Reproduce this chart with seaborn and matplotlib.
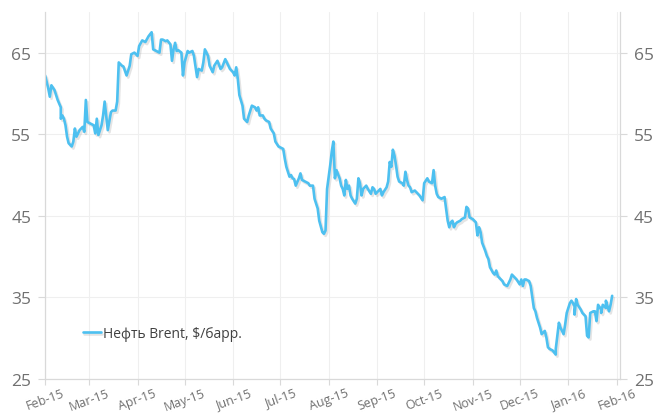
import numpy as np
import pandas as pd
import matplotlib
matplotlib.use("Agg")
import matplotlib.pyplot as plt
import matplotlib.dates as mdates
import matplotlib.patheffects as pe
import seaborn as sns

# days counted from 1 Feb 2015
start_date = "2015-02-01"
day = [0, 2, 3, 4, 6, 8, 10, 10, 11, 12, 13, 14, 15, 17, 18, 19, 20, 22, 24, 25,
       26, 27, 29, 31, 32, 33, 34, 36, 37, 38, 39, 40, 42, 43, 45, 46, 47, 49, 50, 52,
       54, 55, 57, 59, 60, 62, 63, 64, 66, 68, 69, 71, 73, 74,
       75, 77, 78, 80, 81, 82, 83, 84, 85, 87, 88, 89, 91, 92, 94, 95, 97, 98, 100, 101,
       102, 104, 105, 107, 108, 110, 112, 113, 115, 117, 118, 120, 121, 122, 123, 124, 126, 127, 129, 130,
       132, 134, 135, 136, 137, 139, 140, 141, 143, 144, 146, 147, 149,
       151, 152, 153, 154, 156, 157, 158, 159, 160, 162, 163, 164, 166, 168, 169, 171, 172, 174, 175, 177,
       178, 179, 180, 182, 183, 184, 185, 186, 188, 189, 190, 191, 192, 193, 194, 195, 196, 198, 199, 200,
       201, 202, 203, 205, 206, 208, 209, 210, 211, 213, 214, 215, 216, 218, 219, 220, 221, 222, 223,
       224, 225, 226, 228, 229, 230, 231, 232, 233, 234, 236, 238, 239, 241, 242, 244, 245, 247, 248, 249,
       250, 251, 253, 255, 256, 257, 258, 259, 260, 261, 262, 263, 265, 266, 268, 269, 270, 271, 273, 274,
       275, 276, 277, 278, 279, 281, 282, 283, 284, 286, 287, 288, 289, 290, 292, 293, 295, 297,
       298, 300, 301, 303, 304, 305, 306, 307, 309, 310, 312, 313, 314, 316, 317, 318, 319, 320, 321, 322,
       324, 326, 326, 328, 329, 331, 332, 333, 335, 336, 337, 338, 338, 339, 340, 342, 343, 345, 346, 347,
       348, 350, 351, 352, 353, 355, 355, 356, 358, 358, 360, 361, 362]
brent = [62.2, 60.6, 59.6, 61.0, 60.4, 59.2, 58.3, 56.9, 57.3, 56.9, 56.1, 54.7, 53.9, 53.5, 54.1, 55.7, 54.7, 55.5, 55.9, 55.3,
         59.2, 56.5, 56.3, 56.1, 55.1, 56.9, 54.9, 56.1, 57.3, 59.0, 57.3, 55.5, 57.7, 57.9, 57.9, 59.0, 63.8, 63.4, 63.3, 62.2,
         63.4, 64.8, 65.0, 64.6, 65.8, 66.5, 66.4, 66.3, 67.0, 67.5, 65.4, 65.2, 65.0, 66.6,
         66.6, 66.4, 66.5, 66.0, 64.0, 65.4, 66.2, 65.2, 65.3, 65.0, 62.2, 63.8, 65.2, 65.0, 65.2, 64.6, 62.0, 63.0, 62.8, 63.8,
         65.4, 64.6, 63.4, 62.6, 63.4, 64.0, 63.0, 63.2, 64.2, 63.4, 63.0, 62.6, 62.2, 63.2, 61.8, 59.8, 58.5, 56.9, 56.5, 57.3,
         58.5, 58.3, 57.9, 58.3, 57.3, 57.3, 56.9, 56.7, 56.5, 55.7, 55.1, 54.1, 53.5,
         53.3, 53.2, 52.0, 51.0, 49.8, 50.0, 49.6, 49.5, 48.7, 49.6, 50.2, 49.4, 49.2, 49.0, 48.7, 48.7, 47.1, 45.9, 44.4, 43.0,
         42.8, 43.2, 48.3, 51.2, 52.9, 54.1, 49.6, 50.6, 49.6, 48.7, 48.3, 47.5, 49.4, 48.3, 48.7, 47.5, 47.1, 46.5, 47.1, 49.6,
         49.0, 47.5, 48.3, 48.7, 48.3, 47.7, 48.5, 48.3, 47.7, 48.1, 48.3, 47.5, 47.9, 48.5, 49.2, 51.6, 51.0, 53.1, 52.4,
         51.2, 49.8, 49.2, 49.0, 48.7, 50.4, 49.4, 48.7, 48.5, 47.9, 48.1, 47.7, 47.5, 46.9, 49.0, 49.6, 49.2, 49.0, 50.6, 48.7,
         47.7, 47.3, 47.1, 47.3, 45.9, 44.4, 43.6, 44.2, 44.4, 43.6, 44.0, 44.2, 44.4, 44.6, 44.8, 46.1, 45.9, 44.8, 44.6, 44.4,
         44.2, 42.6, 43.6, 43.0, 41.7, 40.7, 40.1, 39.7, 38.7, 38.0, 37.8, 38.3, 37.6, 37.4, 37.0, 36.6, 36.4, 37.2,
         37.8, 37.4, 37.2, 36.6, 37.2, 36.4, 37.2, 37.2, 37.0, 36.4, 33.7, 33.3, 32.5, 31.3, 30.5, 30.7, 30.9, 30.1, 28.9, 28.7,
         28.5, 28.0, 28.7, 31.9, 31.3, 30.5, 31.7, 33.1, 34.3, 34.6, 34.3, 33.9, 32.9, 34.8, 34.1, 33.5, 33.1, 32.7, 30.3, 30.1,
         33.1, 33.3, 33.3, 32.1, 34.1, 33.5, 33.1, 34.1, 33.7, 34.6, 33.3, 34.1, 35.2]
y_ticks = [25, 35, 45, 55, 65]
month_ticks = pd.date_range("2015-02-01", "2016-02-01", freq="MS")
series_label = "Нефть Brent, $/барр."

df = pd.DataFrame({
    "date": pd.Timestamp(start_date) + pd.to_timedelta(day, unit="D"),
    "price": brent,
})

sns.set_theme(style="white")
plt.rcParams["font.family"] = ["Open Sans", "DejaVu Sans"]

fig, ax = plt.subplots(figsize=(6.54, 4.14), dpi=100)
fig.subplots_adjust(left=0.069, right=0.948, bottom=0.082, top=0.969)

line_color = "#4DC0F0"
sns.lineplot(data=df, x="date", y="price", ax=ax, estimator=None, sort=False,
             color=line_color, linewidth=1.9, label=series_label)
ax.lines[0].set_path_effects([
    pe.SimpleLineShadow(offset=(1.2, -1.5), shadow_color="#888888", alpha=0.22),
    pe.Normal(),
])

ax.set_xlim(pd.Timestamp("2015-02-01"), pd.Timestamp("2016-02-03"))
ax.set_ylim(25, 70)
ax.set_yticks(y_ticks)
ax.set_xticks(month_ticks)
ax.xaxis.set_major_formatter(mdates.DateFormatter("%b-%y"))
ax.set_xlabel("")
ax.set_ylabel("")

ax.grid(True, color="#EFEFEF", linewidth=0.8)
ax.set_axisbelow(True)
for side in ["left", "right", "bottom"]:
    ax.spines[side].set_color("#D9D9D9")
    ax.spines[side].set_linewidth(0.9)
ax.spines["top"].set_visible(False)

ax.tick_params(axis="y", left=True, right=True, labelleft=True, labelright=True,
               length=5, width=0.8, color="#D9D9D9", labelsize=12.5,
               labelcolor="#707070", pad=5)
ax.tick_params(axis="x", bottom=True, length=4, width=0.8, color="#D9D9D9",
               labelsize=9, labelcolor="#707070", pad=1)
for lbl in ax.get_xticklabels():
    lbl.set_rotation(20)
    lbl.set_ha("center")

leg = ax.legend(loc="center left", bbox_to_anchor=(0.053, 0.125), frameon=False,
                handlelength=1.3, handletextpad=0.15, fontsize=10, borderpad=0)
for t in leg.get_texts():
    t.set_color("#404040")

fig.savefig("out.png", dpi=100)
